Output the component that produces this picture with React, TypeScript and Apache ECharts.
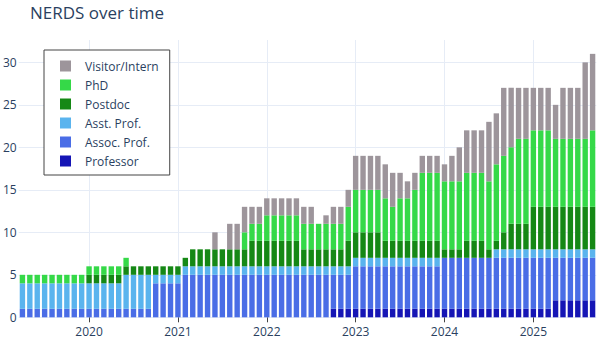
import React, { useEffect, useRef } from "react";
import * as echarts from "echarts";

// Months (bar dates), April 2019 through September 2025
const MONTHS: string[] = [
  "2019-04", "2019-05", "2019-06", "2019-07", "2019-08", "2019-09", "2019-10", "2019-11", "2019-12",
  "2020-01", "2020-02", "2020-03", "2020-04", "2020-05", "2020-06", "2020-07", "2020-08", "2020-09", "2020-10", "2020-11", "2020-12",
  "2021-01", "2021-02", "2021-03", "2021-04", "2021-05", "2021-06", "2021-07", "2021-08", "2021-09", "2021-10", "2021-11", "2021-12",
  "2022-01", "2022-02", "2022-03", "2022-04", "2022-05", "2022-06", "2022-07", "2022-08", "2022-09", "2022-10", "2022-11", "2022-12",
  "2023-01", "2023-02", "2023-03", "2023-04", "2023-05", "2023-06", "2023-07", "2023-08", "2023-09", "2023-10", "2023-11", "2023-12",
  "2024-01", "2024-02", "2024-03", "2024-04", "2024-05", "2024-06", "2024-07", "2024-08", "2024-09", "2024-10", "2024-11", "2024-12",
  "2025-01", "2025-02", "2025-03", "2025-04", "2025-05", "2025-06", "2025-07", "2025-08", "2025-09",
];

const PROFESSOR = [
  0, 0, 0, 0, 0, 0, 0, 0, 0,
  0, 0, 0, 0, 0, 0, 0, 0, 0, 0, 0, 0,
  0, 0, 0, 0, 0, 0, 0, 0, 0, 0, 0, 0,
  0, 0, 0, 0, 0, 0, 0, 0, 0, 1, 1, 1,
  1, 1, 1, 1, 1, 1, 1, 1, 1, 1, 1, 1,
  1, 1, 1, 1, 1, 1, 1, 1, 1, 1, 1, 1,
  1, 1, 1, 2, 2, 2, 2, 2, 2,
];
const ASSOC_PROF = [
  1, 1, 1, 1, 1, 1, 1, 1, 1,
  1, 1, 1, 1, 1, 1, 1, 1, 1, 4, 4, 4,
  4, 5, 5, 5, 5, 5, 5, 5, 5, 5, 5, 5,
  5, 5, 5, 5, 5, 5, 5, 5, 5, 4, 4, 4,
  5, 5, 5, 5, 5, 5, 5, 5, 5, 5, 5, 5,
  6, 6, 6, 6, 6, 6, 6, 6, 6, 6, 6, 6,
  6, 6, 6, 5, 5, 5, 5, 5, 5,
];
const ASST_PROF = [
  3, 3, 3, 3, 3, 3, 3, 3, 3,
  3, 3, 3, 3, 3, 4, 4, 4, 4, 1, 1, 1,
  1, 1, 1, 1, 1, 1, 1, 1, 1, 1, 1, 1,
  1, 1, 1, 1, 1, 1, 1, 1, 1, 1, 1, 1,
  1, 1, 1, 1, 1, 1, 1, 1, 1, 1, 1, 1,
  0, 0, 0, 0, 0, 0, 0, 1, 1, 1, 1, 1,
  1, 1, 1, 1, 1, 1, 1, 1, 1,
];
const POSTDOC = [
  0, 0, 0, 0, 0, 0, 0, 0, 0,
  1, 1, 1, 1, 1, 1, 1, 1, 1, 1, 1, 1,
  1, 1, 2, 2, 2, 2, 2, 2, 2, 2, 3, 3,
  3, 3, 3, 3, 3, 2, 2, 2, 2, 2, 2, 3,
  3, 3, 3, 3, 2, 2, 2, 2, 2, 2, 2, 2,
  1, 1, 1, 2, 2, 2, 1, 1, 2, 3, 3, 3,
  5, 5, 5, 5, 5, 5, 5, 5, 5,
];
const PHD = [
  1, 1, 1, 1, 1, 1, 1, 1, 1,
  1, 1, 1, 1, 1, 1, 0, 0, 0, 0, 0, 0,
  0, 0, 0, 0, 0, 0, 0, 0, 0, 2, 2, 2,
  3, 3, 3, 3, 3, 3, 3, 3, 3, 3, 3, 4,
  5, 5, 5, 5, 5, 4, 5, 5, 6, 8, 8, 8,
  8, 8, 8, 8, 8, 8, 8, 9, 9, 9, 10, 10,
  9, 9, 9, 8, 8, 8, 8, 8, 9,
];
const VISITOR = [
  0, 0, 0, 0, 0, 0, 0, 0, 0,
  0, 0, 0, 0, 0, 0, 0, 0, 0, 0, 0, 0,
  0, 0, 0, 0, 0, 2, 0, 3, 3, 3, 2, 2,
  2, 2, 2, 2, 2, 2, 2, 0, 1, 2, 2, 2,
  4, 4, 4, 4, 4, 4, 3, 2, 2, 2, 2, 2,
  2, 3, 4, 5, 5, 5, 7, 6, 8, 7, 6, 6,
  5, 5, 5, 4, 6, 6, 6, 9, 9,
];

const Y_TICKS = [0, 5, 10, 15, 20, 25, 30];

const SERIES_NAMES = ["Professor", "Assoc. Prof.", "Asst. Prof.", "Postdoc", "PhD", "Visitor/Intern"];
const SERIES_VALUES = [PROFESSOR, ASSOC_PROF, ASST_PROF, POSTDOC, PHD, VISITOR];
const SERIES_COLORS = ["#1515b5", "#4a6de6", "#5ab4ee", "#158815", "#35d948", "#9d959b"];

const TEXT = "#2a3f5f";
const FONT = "Open Sans";
const GRID_COLOR = "#e6ecf6";

const isYearStart = (index: number) => MONTHS[index].endsWith("-01");

export default function App() {
  const ref = useRef<HTMLDivElement>(null);

  useEffect(() => {
    if (!ref.current) return;
    const chart = echarts.init(ref.current, undefined, { renderer: "svg" });

    chart.setOption({
      animation: false,
      backgroundColor: "#ffffff",
      textStyle: { fontFamily: FONT },
      title: {
        text: "NERDS over time",
        left: 30,
        top: 4,
        padding: 0,
        textStyle: { color: TEXT, fontSize: 17, fontWeight: "normal", fontFamily: FONT },
      },
      legend: {
        orient: "vertical",
        left: 44,
        top: 50,
        padding: [10, 11, 8, 16],
        backgroundColor: "#ffffff",
        borderColor: "#444444",
        borderWidth: 1,
        itemWidth: 11,
        itemHeight: 11,
        itemGap: 7,
        icon: "rect",
        data: [...SERIES_NAMES].reverse(),
        textStyle: { color: TEXT, fontSize: 12, fontFamily: FONT, padding: [0, 0, 0, 9] },
      },
      grid: { left: 18.3, right: 3.7, top: 40, bottom: 42.7, containLabel: false },
      xAxis: {
        type: "category",
        data: MONTHS,
        boundaryGap: true,
        axisLine: { show: false },
        axisTick: {
          show: true,
          length: 5,
          alignWithLabel: true,
          interval: (index: number) => isYearStart(index),
          lineStyle: { color: "#444444", width: 1 },
        },
        axisLabel: {
          interval: (index: number) => isYearStart(index),
          formatter: (v: string) => v.slice(0, 4),
          color: TEXT,
          fontSize: 12,
          fontFamily: FONT,
          margin: 8,
        },
        splitLine: {
          show: true,
          alignWithLabel: true,
          interval: (index: number) => isYearStart(index),
          lineStyle: { color: GRID_COLOR, width: 1 },
        },
      },
      yAxis: {
        type: "value",
        min: 0,
        max: 32.63,
        axisLine: { show: false },
        axisTick: { show: false, customValues: Y_TICKS },
        axisLabel: {
          customValues: Y_TICKS,
          color: TEXT,
          fontSize: 12,
          fontFamily: FONT,
          margin: 2,
        },
        splitLine: { show: true, lineStyle: { color: GRID_COLOR, width: 1 } },
      },
      series: SERIES_NAMES.map((name, i) => ({
        name,
        type: "bar",
        stack: "total",
        barWidth: 5.4,
        itemStyle: { color: SERIES_COLORS[i] },
        data: SERIES_VALUES[i],
      })),
    });

    return () => chart.dispose();
  }, []);

  return (
    <div
      ref={ref}
      style={{ position: "fixed", left: 0, top: 0, width: 600, height: 360 }}
    />
  );
}
